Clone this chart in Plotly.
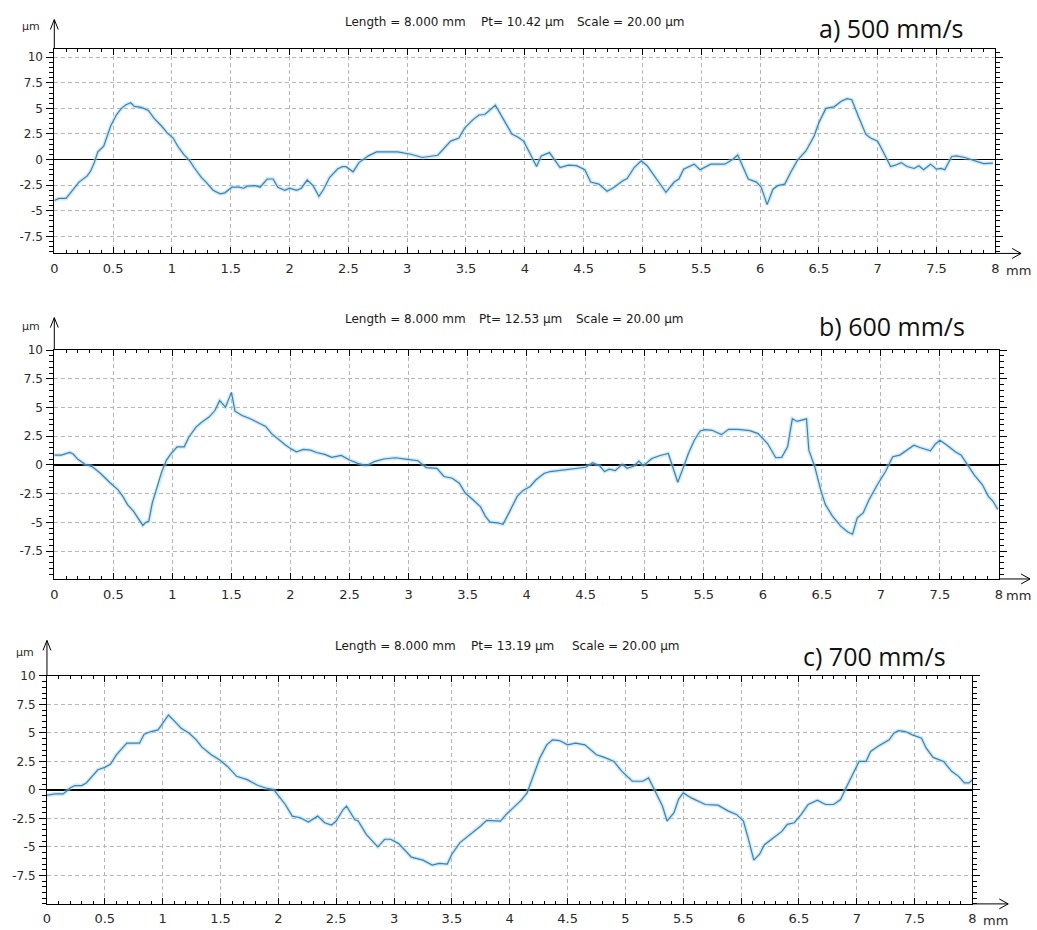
import plotly.graph_objects as go

# ---- profile data: position along the scan (mm) and surface height (µm) ----
x_500 = [0.00, 0.04, 0.10, 0.16, 0.21, 0.28, 0.31, 0.34, 0.37, 0.42, 0.44, 0.48, 0.53, 0.57, 0.61, 0.65,
         0.68, 0.74, 0.80, 0.85, 0.91, 0.96, 1.01, 1.05, 1.10, 1.15, 1.19, 1.25, 1.29, 1.35, 1.41, 1.45,
         1.51, 1.57, 1.61, 1.64, 1.71, 1.75, 1.81, 1.86, 1.90, 1.96, 2.00, 2.06, 2.10, 2.15, 2.20, 2.25,
         2.29, 2.34, 2.41, 2.45, 2.48, 2.54, 2.59, 2.67, 2.74, 2.92, 3.03, 3.13, 3.26, 3.31, 3.37, 3.44,
         3.49, 3.56, 3.61, 3.66, 3.75, 3.82, 3.89, 3.94, 3.99, 4.04, 4.10, 4.14, 4.21, 4.30, 4.37, 4.44,
         4.51, 4.56, 4.63, 4.70, 4.76, 4.83, 4.87, 4.93, 4.99, 5.04, 5.14, 5.20, 5.27, 5.31, 5.35, 5.44,
         5.49, 5.58, 5.70, 5.77, 5.81, 5.84, 5.90, 5.97, 6.01, 6.06, 6.11, 6.15, 6.21, 6.26, 6.32, 6.39,
         6.46, 6.50, 6.56, 6.63, 6.69, 6.74, 6.78, 6.84, 6.90, 6.94, 7.00, 7.05, 7.11, 7.15, 7.20, 7.25,
         7.31, 7.35, 7.39, 7.45, 7.50, 7.54, 7.57, 7.63, 7.67, 7.74, 7.84, 7.90, 7.98]
z_500 = [-4.0, -3.8, -3.8, -2.9, -2.2, -1.6, -1.1, -0.3, 0.75, 1.3, 2.0, 3.3, 4.4, 5.0, 5.35, 5.55,
         5.2, 5.1, 4.8, 4.0, 3.3, 2.6, 2.1, 1.3, 0.5, -0.1, -0.8, -1.75, -2.2, -3.0, -3.35, -3.25,
         -2.7, -2.7, -2.8, -2.6, -2.55, -2.7, -1.9, -1.9, -2.7, -3.0, -2.8, -3.0, -2.8, -2.0, -2.55, -3.6,
         -2.9, -1.75, -0.9, -0.7, -0.7, -1.2, -0.3, 0.36, 0.74, 0.74, 0.52, 0.2, 0.42, 1.0, 1.8, 2.1,
         3.1, 3.9, 4.35, 4.4, 5.3, 3.9, 2.5, 2.2, 1.8, 0.68, -0.68, 0.36, 0.68, -0.78, -0.55, -0.6,
         -1.0, -2.2, -2.4, -3.1, -2.7, -2.1, -1.85, -0.78, -0.13, -0.6, -2.2, -3.2, -2.2, -1.9, -0.94, -0.45,
         -1.0, -0.45, -0.45, 0.03, 0.45, -0.3, -1.9, -2.2, -2.7, -4.4, -2.9, -2.55, -2.4, -1.26, -0.03, 0.84,
         2.3, 3.6, 5.0, 5.15, 5.7, 5.95, 5.85, 4.1, 2.45, 2.1, 1.8, 0.68, -0.68, -0.55, -0.3, -0.68,
         -0.87, -0.6, -1.0, -0.45, -0.94, -0.87, -1.0, 0.3, 0.36, 0.2, -0.13, -0.4, -0.35]

x_600 = [0.00, 0.06, 0.13, 0.16, 0.20, 0.26, 0.32, 0.39, 0.47, 0.54, 0.58, 0.62, 0.67, 0.71, 0.75, 0.77,
         0.80, 0.83, 0.88, 0.91, 0.95, 0.99, 1.04, 1.10, 1.14, 1.20, 1.25, 1.31, 1.36, 1.40, 1.45, 1.50,
         1.53, 1.59, 1.66, 1.73, 1.79, 1.84, 1.90, 1.96, 2.01, 2.05, 2.11, 2.17, 2.22, 2.29, 2.35, 2.43,
         2.50, 2.57, 2.64, 2.71, 2.79, 2.89, 2.99, 3.08, 3.15, 3.24, 3.30, 3.37, 3.43, 3.48, 3.55, 3.61,
         3.65, 3.69, 3.75, 3.80, 3.85, 3.92, 3.97, 4.03, 4.08, 4.15, 4.20, 4.31, 4.42, 4.50, 4.56, 4.62,
         4.66, 4.70, 4.75, 4.81, 4.85, 4.91, 4.95, 4.99, 5.06, 5.13, 5.20, 5.23, 5.28, 5.33, 5.37, 5.42,
         5.47, 5.51, 5.57, 5.65, 5.71, 5.79, 5.89, 5.96, 6.04, 6.11, 6.16, 6.21, 6.25, 6.29, 6.32, 6.37,
         6.39, 6.44, 6.49, 6.53, 6.59, 6.66, 6.72, 6.76, 6.80, 6.85, 6.90, 6.97, 7.04, 7.10, 7.16, 7.22,
         7.28, 7.33, 7.42, 7.46, 7.50, 7.56, 7.63, 7.68, 7.74, 7.79, 7.86, 7.91, 7.95, 7.99]
z_600 = [0.86, 0.86, 1.09, 0.95, 0.49, 0.06, -0.14, -0.72, -1.52, -2.16, -2.73, -3.45, -4.02, -4.6, -5.26, -5.03,
         -4.89, -3.3, -1.72, -0.57, 0.43, 1.0, 1.58, 1.58, 2.44, 3.3, 3.74, 4.17, 4.74, 5.6, 5.03, 6.32,
         4.68, 4.31, 4.02, 3.65, 3.36, 2.73, 2.21, 1.72, 1.38, 1.15, 1.35, 1.29, 1.09, 0.92, 0.66, 0.83,
         0.43, 0.14, -0.06, 0.29, 0.52, 0.63, 0.49, 0.37, -0.23, -0.29, -1.0, -1.15, -1.58, -2.44, -3.07, -3.65,
         -4.45, -4.97, -5.03, -5.17, -4.17, -2.73, -2.21, -1.87, -1.29, -0.72, -0.57, -0.43, -0.29, -0.2, 0.2, -0.09,
         -0.57, -0.37, -0.49, 0.06, -0.29, -0.09, 0.34, -0.06, 0.57, 0.83, 1.0, 0.0, -1.5, -0.14, 1.0, 2.16,
         2.96, 3.07, 3.02, 2.64, 3.1, 3.1, 2.99, 2.73, 1.87, 0.63, 0.66, 1.58, 4.02, 3.79, 3.88, 4.02,
         1.29, -0.14, -2.16, -3.45, -4.45, -5.32, -5.83, -6.03, -4.6, -4.17, -3.02, -1.72, -0.57, 0.72, 0.86, 1.29,
         1.72, 1.52, 1.24, 1.81, 2.16, 1.72, 1.15, 0.86, -0.14, -0.86, -1.72, -2.73, -3.16, -3.88]

x_700 = [0.00, 0.07, 0.14, 0.20, 0.24, 0.30, 0.34, 0.39, 0.44, 0.50, 0.55, 0.60, 0.64, 0.69, 0.80, 0.84,
         0.90, 0.96, 1.00, 1.05, 1.10, 1.16, 1.23, 1.29, 1.34, 1.42, 1.49, 1.56, 1.64, 1.73, 1.82, 1.89,
         1.96, 2.02, 2.06, 2.12, 2.19, 2.26, 2.34, 2.40, 2.46, 2.50, 2.56, 2.59, 2.66, 2.69, 2.76, 2.86,
         2.92, 2.97, 3.04, 3.15, 3.25, 3.33, 3.39, 3.46, 3.50, 3.57, 3.63, 3.69, 3.75, 3.80, 3.86, 3.92,
         3.97, 4.03, 4.10, 4.15, 4.20, 4.26, 4.32, 4.37, 4.43, 4.50, 4.57, 4.65, 4.75, 4.82, 4.90, 4.97,
         5.06, 5.15, 5.20, 5.25, 5.32, 5.36, 5.42, 5.46, 5.50, 5.57, 5.69, 5.80, 5.89, 5.96, 6.02, 6.06,
         6.11, 6.16, 6.20, 6.28, 6.35, 6.40, 6.46, 6.52, 6.58, 6.66, 6.73, 6.80, 6.86, 6.90, 6.96, 7.02,
         7.08, 7.12, 7.18, 7.28, 7.32, 7.36, 7.42, 7.48, 7.56, 7.60, 7.66, 7.75, 7.82, 7.88, 7.93, 7.97, 8.00]
z_700 = [-0.47, -0.35, -0.35, 0.17, 0.38, 0.38, 0.61, 1.19, 1.77, 1.98, 2.27, 3.08, 3.58, 4.1, 4.1, 4.88,
         5.12, 5.26, 5.84, 6.57, 6.05, 5.41, 4.97, 4.39, 3.75, 3.08, 2.65, 2.06, 1.19, 0.9, 0.41, 0.17,
         0.03, -0.7, -1.28, -2.3, -2.44, -2.82, -2.3, -2.88, -3.08, -2.73, -1.72, -1.42, -2.59, -2.73, -3.9, -5.0,
         -4.33, -4.33, -4.71, -5.9, -6.16, -6.6, -6.45, -6.51, -5.64, -4.62, -4.13, -3.6, -3.17, -2.67, -2.73, -2.73,
         -2.15, -1.57, -0.9, -0.26, 1.05, 2.79, 3.95, 4.39, 4.33, 3.95, 4.1, 3.95, 3.08, 2.85, 2.5, 1.63,
         0.76, 0.76, 1.05, 0.03, -1.42, -2.73, -2.0, -0.8, -0.26, -0.7, -1.28, -1.34, -1.86, -2.15, -2.73, -4.19,
         -6.16, -5.64, -4.83, -4.19, -3.66, -3.02, -2.88, -2.15, -1.28, -0.9, -1.28, -1.28, -0.84, 0.03, 1.34, 2.5,
         2.5, 3.37, 3.81, 4.39, 4.97, 5.2, 5.12, 4.83, 4.53, 3.66, 2.85, 2.5, 1.63, 1.19, 0.61, 0.61, 0.9]

speed_labels = ["a) 500 mm/s", "b) 600 mm/s", "c) 700 mm/s"]
pt_labels = ["Pt= 10.42 \u00b5m", "Pt= 12.53 \u00b5m", "Pt= 13.19 \u00b5m"]
length_label = "Length = 8.000 mm"
scale_label = "Scale = 20.00 \u00b5m"

x_tick_vals = [0, 0.5, 1, 1.5, 2, 2.5, 3, 3.5, 4, 4.5, 5, 5.5, 6, 6.5, 7, 7.5, 8]
x_tick_text = ["0", "0.5", "1", "1.5", "2", "2.5", "3", "3.5", "4", "4.5", "5", "5.5", "6", "6.5", "7", "7.5", "8"]
y_tick_vals = [-7.5, -5, -2.5, 0, 2.5, 5, 7.5, 10]
y_tick_text = ["-7.5", "-5", "-2.5", "0", "2.5", "5", "7.5", "10"]

profiles = [(x_500, z_500), (x_600, z_600), (x_700, z_700)]

# ---- page geometry (pixels) ----
W, H = 1037, 930


def fx(p):
    return p / W


def fy(p):
    return 1 - p / H


# left, right, top, bottom of each plot frame, the height range it spans,
# and where the decorations of each panel sit
frames = [
    dict(l=50.7, r=999.0, t=42.0, b=248.3, yr=[-9.17, 10.83], tip_y=12.7, tip_x=1025.0,
         title_y=15.5, title_x=[341.7, 479.0, 575.0], lab_x=819.0, lab_y=21.5,
         unit_y=20.0, unit_x=16.0, mm_x=1008.0),
    dict(l=50.7, r=1002.7, t=345.7, b=576.3, yr=[-9.92, 10.0], tip_y=313.0, tip_x=1034.0,
         title_y=314.0, title_x=[341.7, 477.0, 574.0], lab_x=819.0, lab_y=321.5,
         unit_y=321.5, unit_x=16.0, mm_x=1008.0),
    dict(l=43.3, r=976.0, t=674.0, b=903.7, yr=[-10.0, 10.0], tip_y=638.3, tip_x=1012.0,
         title_y=644.0, title_x=[331.7, 468.3, 570.7], lab_x=803.0, lab_y=654.0,
         unit_y=650.0, unit_x=10.0, mm_x=985.0),
]

LINE_BLUE = "#3a82b6"
HALO = "rgba(150, 210, 238, 0.45)"
AX_FONT = dict(family="DejaVu Sans, Verdana, sans-serif", size=12, color="#2a2a2a")
X_FONT = dict(AX_FONT, size=13)
SMALL_FONT = dict(family="DejaVu Sans, Verdana, sans-serif", size=12, color="#1a1a1a")
LABEL_FONT = dict(family="Open Sans, Lato, sans-serif", size=25, color="#111111")
GRID = "#b6b6b6"

fig = go.Figure()
layout = dict(
    width=W, height=H, autosize=False,
    margin=dict(l=0, r=0, t=0, b=0),
    paper_bgcolor="white", plot_bgcolor="white",
    showlegend=False,
)
annotations = []
shapes = []

for i, ((xs, zs), fr) in enumerate(zip(profiles, frames)):
    n = "" if i == 0 else str(i + 1)
    xa, ya = "x" + n, "y" + n

    # soft glow under the profile, then the profile itself
    fig.add_trace(go.Scatter(x=xs, y=zs, mode="lines", xaxis=xa, yaxis=ya,
                             line=dict(color=HALO, width=4), hoverinfo="skip"))
    fig.add_trace(go.Scatter(x=xs, y=zs, mode="lines", xaxis=xa, yaxis=ya,
                             line=dict(color=LINE_BLUE, width=1.2)))

    layout["xaxis" + n] = dict(
        domain=[fx(fr["l"]), fx(fr["r"])], anchor=ya, range=[0, 8],
        tickmode="array", tickvals=x_tick_vals, ticktext=x_tick_text,
        ticks="inside", ticklen=6, tickwidth=1, tickcolor="black",
        minor=dict(dtick=0.1, tick0=0, ticks="inside", ticklen=3, tickcolor="black", showgrid=False),
        showline=True, linecolor="black", linewidth=1, mirror="ticks",
        showgrid=True, gridcolor=GRID, griddash="4px,3px", gridwidth=1,
        zeroline=False, tickfont=X_FONT, ticklabelstandoff=3, fixedrange=True,
    )
    layout["yaxis" + n] = dict(
        domain=[fy(fr["b"]), fy(fr["t"])], anchor=xa, range=fr["yr"],
        tickmode="array", tickvals=y_tick_vals, ticktext=y_tick_text,
        ticks="outside", ticklen=7, tickwidth=1, tickcolor="black",
        minor=dict(dtick=0.5, tick0=0, ticks="outside", ticklen=4, tickcolor="black", showgrid=False),
        showline=True, linecolor="black", linewidth=1, mirror="ticks",
        showgrid=True, gridcolor=GRID, griddash="4px,3px", gridwidth=1,
        zeroline=True, zerolinecolor="black", zerolinewidth=1.6,
        tickfont=AX_FONT, ticklabelstandoff=1, fixedrange=True,
    )

    # header line of the measurement
    for txt, x0 in zip([length_label, pt_labels[i], scale_label], fr["title_x"]):
        annotations.append(dict(text=txt, x=fx(x0), y=fy(fr["title_y"]), xref="paper", yref="paper",
                                xanchor="left", yanchor="middle", showarrow=False, font=SMALL_FONT))
    # scan speed label
    annotations.append(dict(text=speed_labels[i], x=fx(fr["lab_x"]), y=fy(fr["lab_y"]),
                            xref="paper", yref="paper", xanchor="left", yanchor="middle",
                            showarrow=False, font=LABEL_FONT))
    # axis units
    annotations.append(dict(text="\u00b5m", x=fx(fr["unit_x"]), y=fy(fr["unit_y"]),
                            xref="paper", yref="paper", xanchor="left", yanchor="middle",
                            showarrow=False, font=dict(AX_FONT, size=11)))
    annotations.append(dict(text="mm", x=fx(fr["mm_x"]), y=fy(fr["b"] + 17),
                            xref="paper", yref="paper", xanchor="left", yanchor="middle",
                            showarrow=False, font=X_FONT))

    # vertical axis continues above the frame and ends in an open arrow head
    line = dict(color="black", width=1)
    shapes.append(dict(type="line", xref="paper", yref="paper", line=line,
                       x0=fx(fr["l"]), x1=fx(fr["l"]), y0=fy(fr["t"]), y1=fy(fr["tip_y"])))
    shapes.append(dict(type="line", xref="paper", yref="paper", line=line,
                       x0=fx(fr["l"] - 4), x1=fx(fr["l"]), y0=fy(fr["tip_y"] + 10), y1=fy(fr["tip_y"])))
    shapes.append(dict(type="line", xref="paper", yref="paper", line=line,
                       x0=fx(fr["l"] + 4), x1=fx(fr["l"]), y0=fy(fr["tip_y"] + 10), y1=fy(fr["tip_y"])))
    # horizontal axis continues past the frame and ends in an open arrow head
    shapes.append(dict(type="line", xref="paper", yref="paper", line=line,
                       x0=fx(fr["r"]), x1=fx(fr["tip_x"]), y0=fy(fr["b"]), y1=fy(fr["b"])))
    shapes.append(dict(type="line", xref="paper", yref="paper", line=line,
                       x0=fx(fr["tip_x"] - 9), x1=fx(fr["tip_x"]), y0=fy(fr["b"] - 5), y1=fy(fr["b"])))
    shapes.append(dict(type="line", xref="paper", yref="paper", line=line,
                       x0=fx(fr["tip_x"] - 9), x1=fx(fr["tip_x"]), y0=fy(fr["b"] + 5), y1=fy(fr["b"])))

layout["annotations"] = annotations
layout["shapes"] = shapes
fig.update_layout(**layout)

fig.write_html("out.html", config=dict(displayModeBar=False, staticPlot=True))
